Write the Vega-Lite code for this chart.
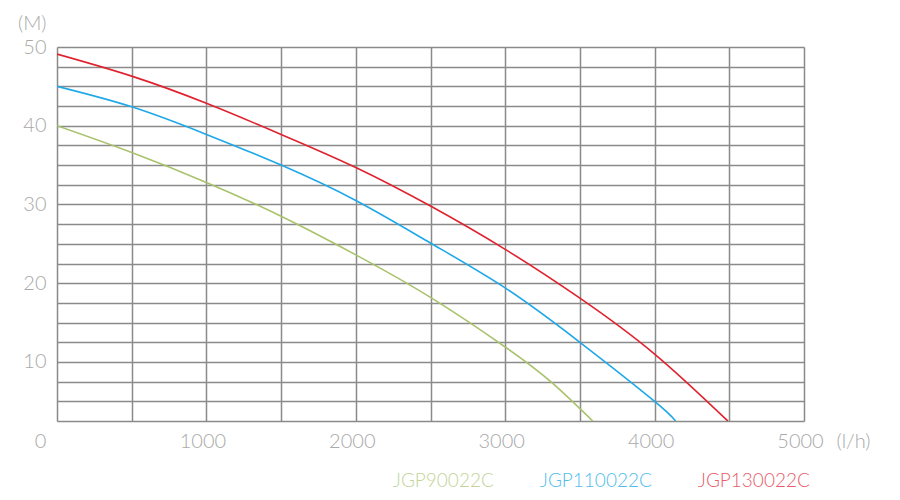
{
  "$schema": "https://vega.github.io/schema/vega-lite/v6.json",
  "autosize": "none",
  "width": 747,
  "height": 374,
  "padding": {"left": 57, "top": 47, "right": 96, "bottom": 79},
  "background": "white",
  "config": {
    "view": {"stroke": null},
    "font": "Lato",
    "axis": {"labelFont": "Lato", "labelFontWeight": 300, "labelColor": "#a9a9a9", "labelFontSize": 20, "titleFont": "Lato", "titleFontWeight": 300, "titleColor": "#a9a9a9", "titleFontSize": 20, "gridColor": "#8a8a8a", "gridWidth": 1.5, "gridOpacity": 1, "domain": false, "ticks": false, "tickSize": 0}
  },
  "data": {"values": [
    {"flow": 0, "head": 40.0, "model": "JGP90022C"},
    {"flow": 500, "head": 36.6, "model": "JGP90022C"},
    {"flow": 1000, "head": 32.8, "model": "JGP90022C"},
    {"flow": 1500, "head": 28.5, "model": "JGP90022C"},
    {"flow": 2000, "head": 23.6, "model": "JGP90022C"},
    {"flow": 2500, "head": 18.2, "model": "JGP90022C"},
    {"flow": 3000, "head": 11.9, "model": "JGP90022C"},
    {"flow": 3305, "head": 7.5, "model": "JGP90022C"},
    {"flow": 3586, "head": 2.5, "model": "JGP90022C"},
    {"flow": 0, "head": 45.0, "model": "JGP110022C"},
    {"flow": 500, "head": 42.4, "model": "JGP110022C"},
    {"flow": 1000, "head": 38.9, "model": "JGP110022C"},
    {"flow": 1500, "head": 35.0, "model": "JGP110022C"},
    {"flow": 2000, "head": 30.5, "model": "JGP110022C"},
    {"flow": 2500, "head": 25.1, "model": "JGP110022C"},
    {"flow": 3000, "head": 19.4, "model": "JGP110022C"},
    {"flow": 3500, "head": 12.5, "model": "JGP110022C"},
    {"flow": 4000, "head": 5.0, "model": "JGP110022C"},
    {"flow": 4140, "head": 2.5, "model": "JGP110022C"},
    {"flow": 0, "head": 49.1, "model": "JGP130022C"},
    {"flow": 500, "head": 46.3, "model": "JGP130022C"},
    {"flow": 1000, "head": 42.85, "model": "JGP130022C"},
    {"flow": 1500, "head": 38.9, "model": "JGP130022C"},
    {"flow": 2000, "head": 34.7, "model": "JGP130022C"},
    {"flow": 2500, "head": 29.8, "model": "JGP130022C"},
    {"flow": 3000, "head": 24.3, "model": "JGP130022C"},
    {"flow": 3500, "head": 18.1, "model": "JGP130022C"},
    {"flow": 4000, "head": 11.0, "model": "JGP130022C"},
    {"flow": 4490, "head": 2.5, "model": "JGP130022C"}
  ]},
  "mark": {"type": "line", "interpolate": "natural", "strokeWidth": 1.6, "clip": true},
  "encoding": {
    "x": {
      "field": "flow", "type": "quantitative",
      "scale": {"domain": [0, 5000], "nice": false, "zero": false},
      "axis": {
        "values": [0, 500, 1000, 1500, 2000, 2500, 3000, 3500, 4000, 4500, 5000],
        "labelExpr": "datum.value % 1000 == 0 ? datum.label : ''",
        "format": "d",
        "labelBaseline": "middle",
        "labelPadding": 20,
        "labelOffset": {"condition": {"test": "datum.value == 0", "value": -17}, "value": -4},
        "labelFlush": false,
        "labelOverlap": false,
        "title": "(l/h)",
        "titleX": 796,
        "titleY": 20,
        "titleAlign": "center",
        "titleBaseline": "middle",
        "titleAnchor": null
      }
    },
    "y": {
      "field": "head", "type": "quantitative",
      "scale": {"domain": [2.5, 50], "nice": false, "zero": false},
      "axis": {
        "values": [2.5, 5, 7.5, 10, 12.5, 15, 17.5, 20, 22.5, 25, 27.5, 30, 32.5, 35, 37.5, 40, 42.5, 45, 47.5, 50],
        "labelExpr": "datum.value % 10 == 0 ? datum.label : ''",
        "labelPadding": 11,
        "labelOverlap": false,
        "labelFlush": false,
        "title": "(M)",
        "titleAngle": 0,
        "titleX": -11,
        "titleY": -24,
        "titleAlign": "right",
        "titleBaseline": "middle",
        "titleAnchor": null
      }
    },
    "color": {
      "field": "model", "type": "nominal",
      "scale": {"domain": ["JGP90022C", "JGP110022C", "JGP130022C"], "range": ["#a9c26b", "#1ea8e8", "#e0222e"]},
      "legend": {
        "title": null,
        "orient": "none",
        "legendX": 317,
        "legendY": 424,
        "direction": "horizontal",
        "columnPadding": 27,
        "padding": 0,
        "symbolSize": 0,
        "symbolStrokeWidth": 0,
        "symbolOpacity": 0,
        "labelOffset": 0,
        "labelFont": "Lato",
        "labelFontWeight": 300,
        "labelFontSize": 19,
        "labelLimit": 300,
        "labelColor": {"expr": "datum.value == 'JGP90022C' ? '#c3d49a' : datum.value == 'JGP110022C' ? '#52bdec' : '#e65e6a'"}
      }
    }
  }
}
